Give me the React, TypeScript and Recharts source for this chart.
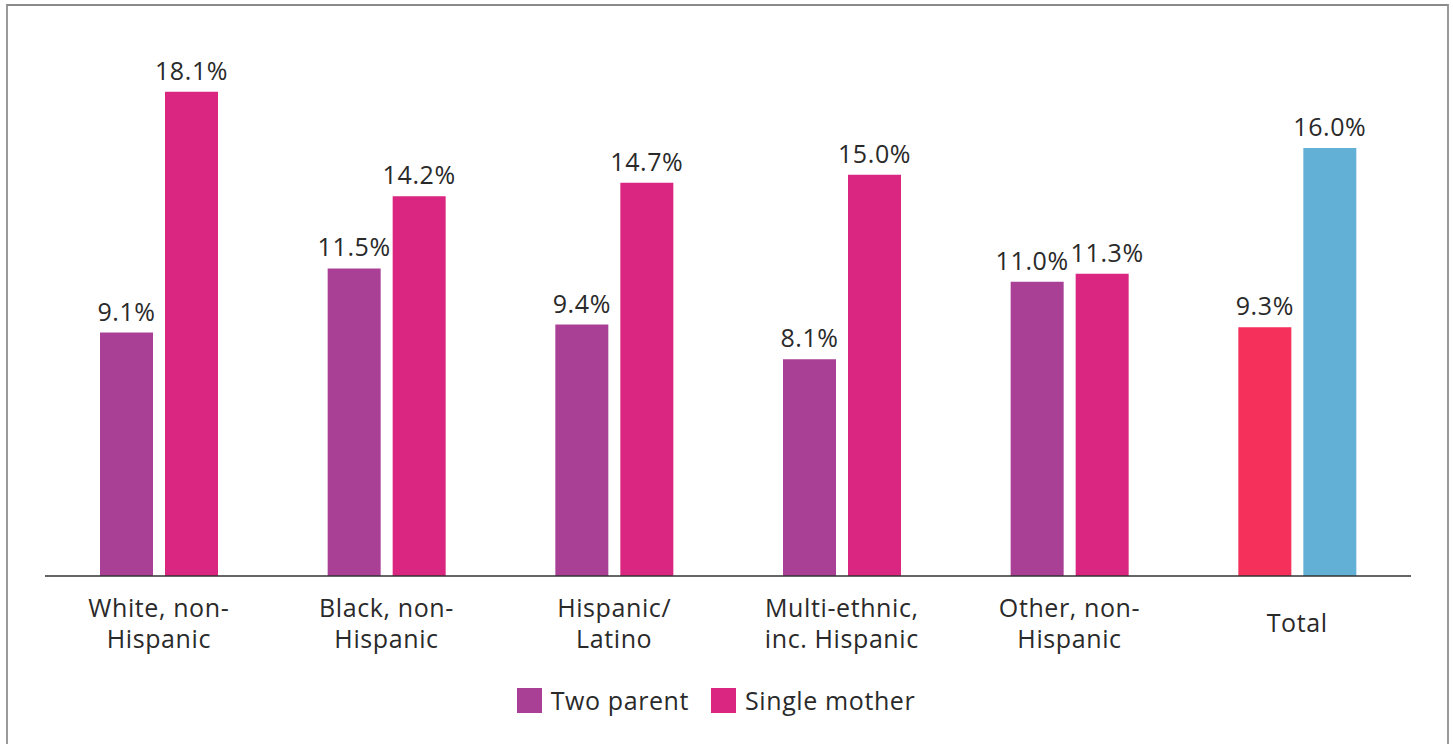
import React from 'react';
import { BarChart, Bar, XAxis, YAxis, Legend, LabelList, Cell } from 'recharts';

const categories = [
  'White, non-|Hispanic',
  'Black, non-|Hispanic',
  'Hispanic/|Latino',
  'Multi-ethnic,|inc. Hispanic',
  'Other, non-|Hispanic',
  'Total',
];
const twoParent = [9.1, 11.5, 9.4, 8.1, 11.0, 9.3];
const singleMother = [18.1, 14.2, 14.7, 15.0, 11.3, 16.0];
const seriesNames = ['Two parent', 'Single mother'];

const PURPLE = '#A94096';
const PINK = '#DA2680';
const TOTAL_RED = '#F5305A';
const TOTAL_BLUE = '#62B0D6';
const TEXT = '#2a2a2a';
const FONT = '"Open Sans", "Noto Sans", sans-serif';
const FS = 25;
const LS = 0.6;

const data = categories.map((c, i) => ({
  name: c,
  two: twoParent[i],
  single: singleMother[i],
}));

const CategoryTick = ({ x, y, payload }: any) => {
  const lines = String(payload.value).split('|');
  const first = lines.length === 1 ? 48 : 33;
  return (
    <text x={x} y={y} textAnchor="middle" fill={TEXT} fontSize={FS} fontFamily={FONT} letterSpacing={LS}>
      {lines.map((l, i) => (
        <tspan key={i} x={x} y={y + first + i * 31}>
          {l}
        </tspan>
      ))}
    </text>
  );
};

// value label above bar; nudges apart when the pair is nearly the same height
const makeValueLabel = (side: number) => (props: any) => {
  const { x, y, width, value, index } = props;
  const close = Math.abs(twoParent[index] - singleMother[index]) < 1;
  const dx = close ? side * 5 : 0;
  return (
    <text
      x={x + width / 2 + dx}
      y={y - 12}
      textAnchor="middle"
      fill={TEXT}
      fontSize={FS}
      fontFamily={FONT}
      letterSpacing={LS}
    >
      {`${Number(value).toFixed(1)}%`}
    </text>
  );
};

const LegendBox = () => (
  <div
    style={{
      height: 56,
      display: 'flex',
      justifyContent: 'center',
      alignItems: 'flex-start',
      fontFamily: FONT,
      fontSize: FS,
      letterSpacing: LS,
      color: TEXT,
      paddingRight: 24,
    }}
  >
    {seriesNames.map((n, i) => (
      <div key={n} style={{ display: 'flex', alignItems: 'center', marginRight: i === 0 ? 22 : 0 }}>
        <span
          style={{
            display: 'inline-block',
            width: 25,
            height: 25,
            background: i === 0 ? PURPLE : PINK,
            marginRight: 9,
          }}
        />
        <span style={{ lineHeight: '25px' }}>{n}</span>
      </div>
    ))}
  </div>
);

export default function App() {
  return (
    <div style={{ position: 'absolute', left: 0, top: 0, width: 1453, height: 744, overflow: 'hidden', background: '#fff' }}>
      <style>{'body{margin:0}'}</style>
      <div
        style={{
          position: 'absolute',
          left: 6,
          top: 4,
          width: 1439,
          height: 800,
          borderLeft: '2px solid #9a9a9a',
          borderTop: '2px solid #8a8a8a',
          borderRight: '2px solid #9a9a9a',
        }}
      />
      <div style={{ position: 'absolute', left: 0, top: 0 }}>
        <BarChart
          width={1453}
          height={744}
          data={data}
          margin={{ top: 41, right: 42, left: 45, bottom: 0 }}
          barGap={12}
          barSize={53}
        >
          <YAxis hide domain={[0, 20]} />
          <XAxis
            dataKey="name"
            height={112}
            tickLine={false}
            axisLine={{ stroke: '#333', strokeWidth: 1.5 }}
            tick={<CategoryTick />}
            interval={0}
          />
          <Legend verticalAlign="bottom" content={<LegendBox />} />
          <Bar dataKey="two" name={seriesNames[0]} fill={PURPLE} isAnimationActive={false}>
            {data.map((d, i) => (
              <Cell key={i} fill={i === data.length - 1 ? TOTAL_RED : PURPLE} />
            ))}
            <LabelList dataKey="two" content={makeValueLabel(-1)} />
          </Bar>
          <Bar dataKey="single" name={seriesNames[1]} fill={PINK} isAnimationActive={false}>
            {data.map((d, i) => (
              <Cell key={i} fill={i === data.length - 1 ? TOTAL_BLUE : PINK} />
            ))}
            <LabelList dataKey="single" content={makeValueLabel(1)} />
          </Bar>
        </BarChart>
      </div>
    </div>
  );
}
